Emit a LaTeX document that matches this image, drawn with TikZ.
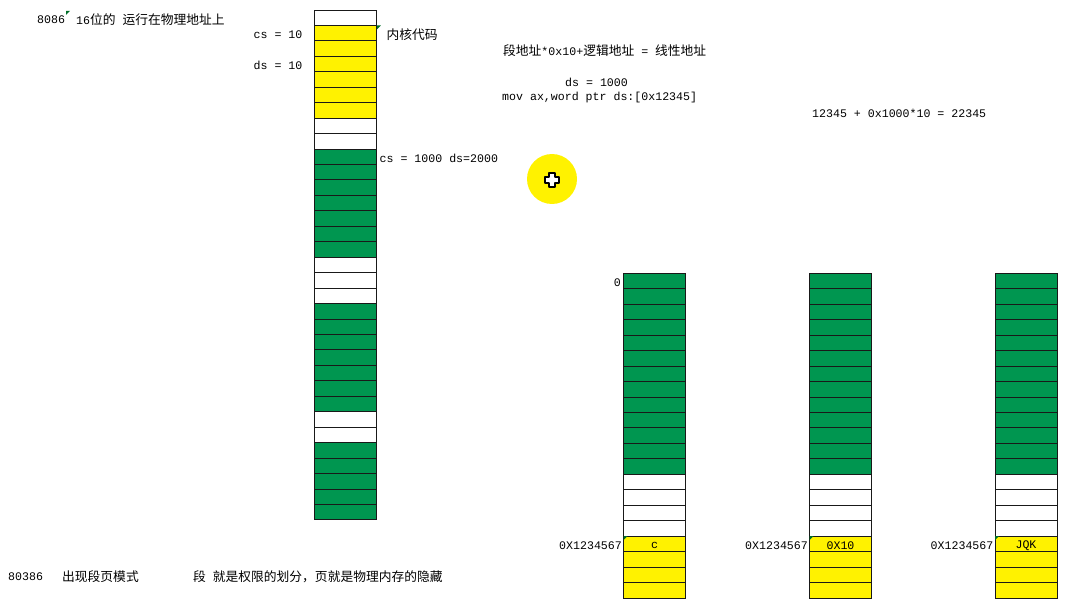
\documentclass[tikz,border=0pt]{standalone}
\usepackage{fontspec}
\setmainfont{Liberation Mono}
\newfontfamily\cjk[Scale=1.1]{Noto Sans CJK SC}
\usetikzlibrary{positioning}
\definecolor{segyellow}{RGB}{255,242,0}
\definecolor{seggreen}{RGB}{0,150,80}
\definecolor{markgreen}{RGB}{0,110,40}

\begin{document}
\begin{tikzpicture}[%
		x=1pt,
		y=-1pt,
		cell/.style={%
			draw=black!90,
			line width=0.9pt,
			minimum width=62pt,
			minimum height=15.45pt,
			inner sep=0pt
		},
		lbl/.style={%
			inner sep=0pt,
			font=\fontsize{11.6}{13}\selectfont
		},
		side/.style={lbl, yshift=-1.5pt},
		note/.style={lbl, anchor=west},
		flagmark/.style={fill=markgreen}
		]
		\useasboundingbox (0,0) rectangle (1085,599);
		
		% memory of the 8086
		\foreach \c [count=\i] in {white,segyellow,segyellow,segyellow,segyellow,segyellow,segyellow,white,white,seggreen,seggreen,seggreen,seggreen,seggreen,seggreen,seggreen,white,white,white,seggreen,seggreen,seggreen,seggreen,seggreen,seggreen,seggreen,white,white,seggreen,seggreen,seggreen,seggreen,seggreen}
		\node[cell, fill=\c] (L\i) at (345, {10+15.45*(\i-0.5)}) {};
		
		\node[side] (cs10) [left=11pt of L2]                          {cs = 10};
		\node[side] (ds10) [left=11pt of L4]                          {ds = 10};
		\node[side] (kern) [right=10pt of L2]                         {\cjk 内核代码};
		\node[side] (csds) [right=3pt of L10]                         {cs = 1000 ds=2000};
		
		% three programs
		\foreach \col/\cx in {A/654.5,B/840.5,C/1026}{
			\foreach \c [count=\i] in {seggreen,seggreen,seggreen,seggreen,seggreen,seggreen,seggreen,seggreen,seggreen,seggreen,seggreen,seggreen,seggreen,white,white,white,white,segyellow,segyellow,segyellow,segyellow}
			\node[cell, fill=\c] (\col\i) at (\cx, {273.3+15.46*(\i-0.5)}) {};
			\node[side] (addr\col) [left=1pt of \col18] {0X1234567};
			\fill[flagmark] (\col18.north west) ++(0.5,0.5) -- ++(4,0) -- ++(-4,4) -- cycle;
		}
		\node[side] (zero) [left=2pt of A1]                           {0};
		\node[side] (valA) at (A18)                                   {c};
		\node[side] (valB) at (B18)                                   {0X10};
		\node[side] (valC) at (C18)                                   {JQK};
		
		% texts
		\node[note] (t8086) at (37,20)                                {8086};
		\node[note] (phys)  at (76,20)                                {16{\cjk 位的} {\cjk 运行在物理地址上}};
		\node[note] (form)  at (503,51)                               {{\cjk 段地址}*0x10+{\cjk 逻辑地址} = {\cjk 线性地址}};
		\node[note] (ds)    at (565,82)                               {ds = 1000};
		\node[note] (mov)   at (502,98)                               {mov ax,word ptr ds:[0x12345]};
		\node[note] (calc)  at (812,113)                              {12345 + 0x1000*10 = 22345};
		\node[note] (t80386) at (8,577)                               {80386};
		\node[note] (pm)    at (62,577)                               {\cjk 出现段页模式};
		\node[note] (seg)   at (193,577)                              {{\cjk 段} {\cjk 就是权限的划分，页就是物理内存的隐藏}};
		
		\fill[flagmark] (66,11) -- ++(4,0) -- ++(-4,4) -- cycle;
		\fill[flagmark] (L2.north east) ++(0.5,0.5) -- ++(4,0) -- ++(-4,4) -- cycle;
		
		% pointer
		\fill[segyellow] (552,179) circle (25pt);
		\draw[fill=white, line width=1.3pt, line join=round] (549,173) -- (555,173) -- (555,177) -- (559,177) -- (559,183) -- (555,183) -- (555,187) -- (549,187) -- (549,183) -- (545,183) -- (545,177) -- (549,177) -- cycle;
\end{tikzpicture}
\end{document}
